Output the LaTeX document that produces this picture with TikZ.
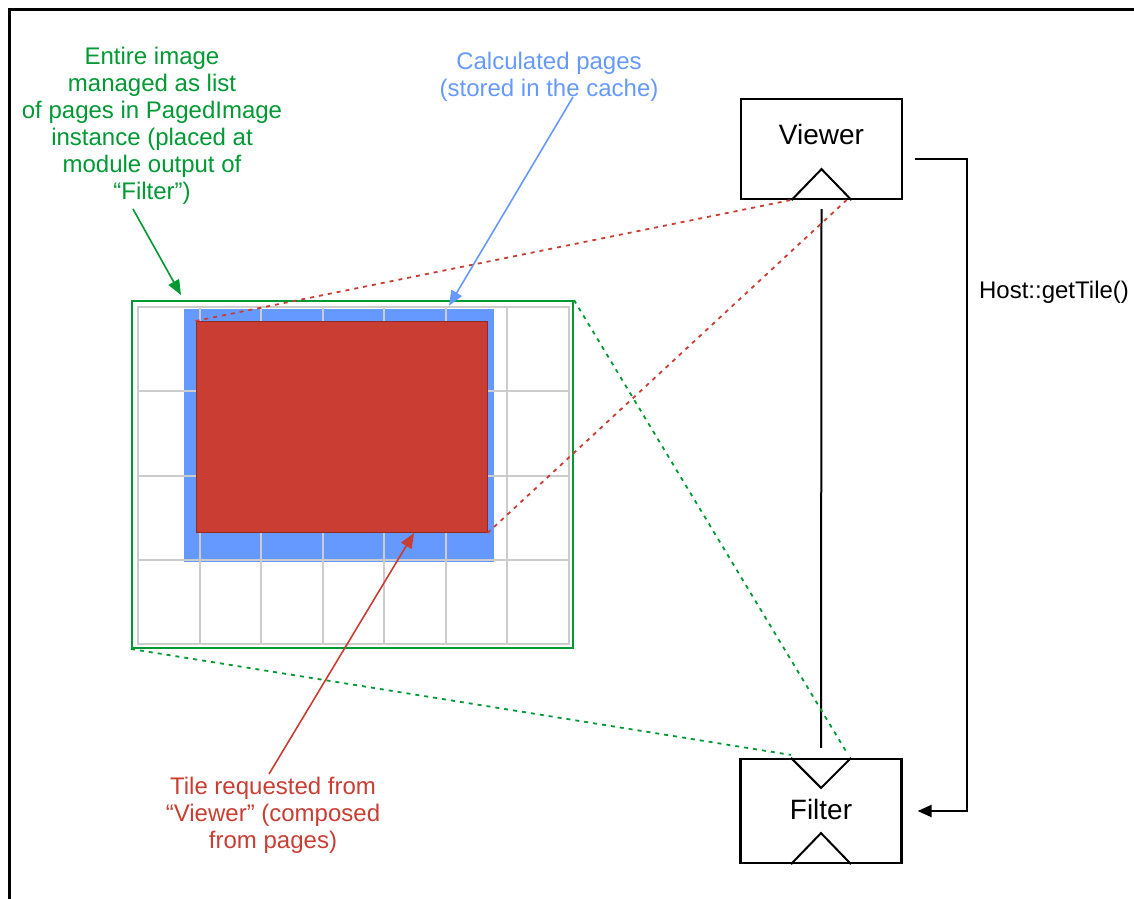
\documentclass[tikz,border=0pt]{standalone}
\usepackage{fontspec}
\setmainfont{Liberation Sans}
\usetikzlibrary{arrows.meta}
\definecolor{pgreen}{RGB}{0,153,51}
\definecolor{pblue}{RGB}{102,153,255}
\definecolor{pred}{RGB}{201,61,51}
\definecolor{pgrid}{RGB}{204,204,204}
\begin{document}
\begin{tikzpicture}[x=1pt,y=-1pt,
    lbl/.style={align=center,font=\fontsize{24}{27}\selectfont,inner sep=0pt},
    mod/.style={draw,line width=2.2pt,minimum width=161pt,minimum height=104pt,inner sep=0pt},
    proj/.style={dash pattern=on 4pt off 5pt,line width=1.8pt},
    callout/.style={-{Triangle[length=15pt,width=12pt]},line width=1.6pt}]
    \useasboundingbox (0,0) rectangle (1134,898);
    \draw[line width=3pt] (9,905) -- (9,9) -- (1140,9);

    \node[fill=pblue,minimum width=310pt,minimum height=253pt,inner sep=0pt] (cache) at (339,435.5) {};
    \foreach \i in {0,...,7} \draw[pgrid,line width=2pt] ({138+61.57*\i},307) -- ({138+61.57*\i},644);
    \foreach \j in {0,...,4} \draw[pgrid,line width=2pt] (137,{307+84.25*\j}) -- (570,{307+84.25*\j});
    \node[draw=pgreen,line width=2pt,minimum width=441pt,minimum height=347pt,inner sep=0pt] (img) at (352.5,474.5) {};
    \node[fill=pred,draw=pred!70!black,line width=1pt,minimum width=291pt,minimum height=211pt,inner sep=0pt] (tile) at (341.5,427) {};

    \node[mod,minimum height=100pt] (viewer) at (821.5,149) {}; \node[font=\fontsize{28}{32}\selectfont] (vtxt) at (821.5,134) {Viewer};
    \node[mod] (filter) at (821,811) {}; \node[font=\fontsize{28}{32}\selectfont] (ftxt) at (821,809) {Filter};
    \draw[line width=2pt] ([xshift=-30pt]viewer.south) -- ++(30,-31) -- ([xshift=30pt]viewer.south);
    \draw[line width=2pt] ([xshift=-30pt]filter.north) -- ++(30,30) -- ([xshift=30pt]filter.north);
    \draw[line width=2pt] ([xshift=-30pt]filter.south) -- ++(30,-31) -- ([xshift=30pt]filter.south);

    \draw[line width=2pt] ([yshift=-9pt]viewer.south) -- ([yshift=10pt]filter.north);
    \draw[line width=2pt,-{Triangle[length=14pt,width=12pt]}] ([xshift=12pt,yshift=-10pt]viewer.east) -- ++(52,0) |- ([xshift=15pt]filter.east);
    \node[lbl] (host) at (1054,292) {Host::getTile()};

    \draw[proj,pred] (tile.north west) -- ([xshift=-31pt]viewer.south);
    \draw[proj,pred] (tile.south east) -- ([xshift=25pt]viewer.south);
    \draw[proj,pgreen] (img.north east) -- ([xshift=26pt,yshift=5pt]filter.north);
    \draw[proj,pgreen] (img.south west) -- ([xshift=-30pt,yshift=3pt]filter.north);

    \node[lbl,text=pgreen] (note1) at (152,126) {Entire image\\managed as list\\of pages in PagedImage\\instance (placed at\\module output of\\“Filter”)};
    \node[lbl,text=pblue] (note2) at (549,76.5) {Calculated pages\\(stored in the cache)};
    \node[lbl,text=pred] (note3) at (273,815) {Tile requested from\\“Viewer” (composed\\from pages)};

    \coordinate (c1) at (133,209); \coordinate (c2) at (573,97); \coordinate (c3) at (269,774);
    \draw[callout,pgreen] (c1) -- ([xshift=50pt,yshift=5pt]img.north west);
    \draw[callout,pblue] (c2) -- ([xshift=110pt,yshift=3pt]cache.north);
    \draw[callout,pred] (c3) -- ([xshift=72.5pt]tile.south);
\end{tikzpicture}
\end{document}
